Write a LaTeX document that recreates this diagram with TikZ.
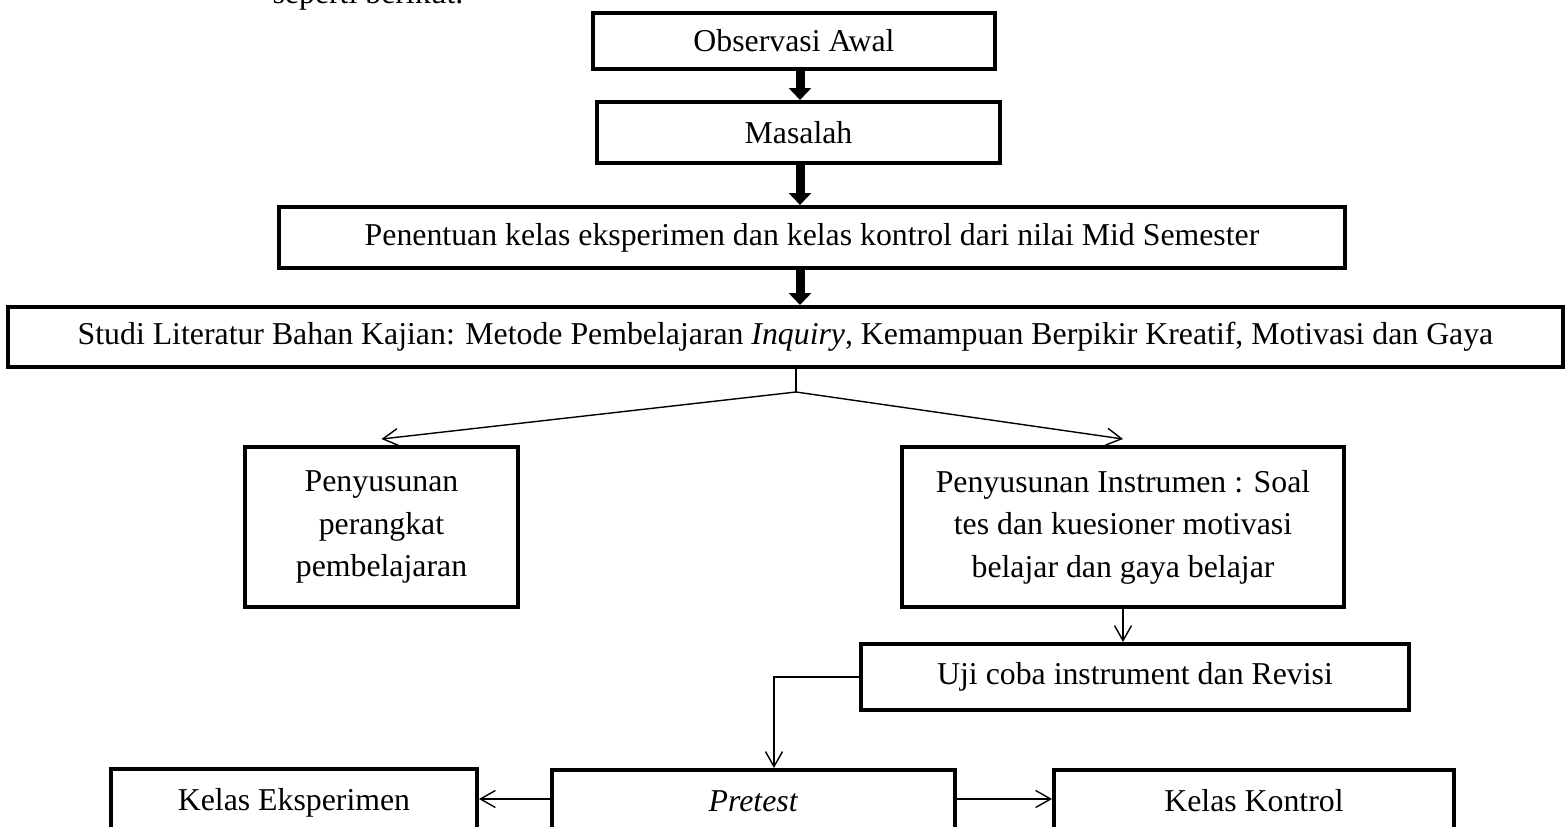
\documentclass[tikz,border=0pt]{standalone}
\usepackage{fontspec}
\setmainfont{Liberation Serif}
\usetikzlibrary{arrows.meta}

\begin{document}
\begin{tikzpicture}[x=0.02cm, y=-0.02cm,
    every node/.style={font=\fontsize{18.1}{24.2}\selectfont, inner sep=0pt, align=center},
    box/.style={draw, line width=0.08cm},
    bot/.style={box, anchor=north, text height=0.84cm, text depth=1.6cm},
    fat/.style={line width=0.18cm, -{Triangle[width=0.44cm,length=0.24cm]}},
    link/.style={line width=0.028cm, -{Straight Barb[length=0.3cm,width=0.34cm]}}]

    \useasboundingbox (0,0) rectangle (1566,827);

    \node[anchor=base] (intro) at (368,4) {seperti berikut.};

    \node[box, minimum width=8.04cm, minimum height=1.12cm] (obs) at (794,41) {Observasi Awal};
    \node[box, minimum width=8.06cm, minimum height=1.22cm] (mas) at (798.5,132.5) {Masalah};
    \node[box, minimum width=21.32cm, minimum height=1.22cm] (pen) at (812,237.5)
      {Penentuan kelas eksperimen dan kelas kontrol dari nilai Mid Semester};
    \node[box, minimum width=31.1cm, minimum height=1.2cm] (stu) at (785.5,337)
      {Studi Literatur Bahan Kajian: Metode Pembelajaran \textit{Inquiry}, Kemampuan Berpikir Kreatif, Motivasi dan Gaya};

    \node[box, minimum width=5.46cm, minimum height=3.2cm] (per) at (381.5,527) {Penyusunan\\perangkat\\pembelajaran};
    \node[box, minimum width=8.86cm, minimum height=3.2cm] (ins) at (1123,527)
      {Penyusunan Instrumen : Soal\\tes dan kuesioner motivasi\\belajar dan gaya belajar};
    \node[box, minimum width=10.96cm, minimum height=1.32cm] (uji) at (1135,677) {Uji coba instrument dan Revisi};

    \node[bot, minimum width=7.32cm] (eks) at (294,767) {Kelas Eksperimen};
    \node[bot, minimum width=8.06cm] (pre) at (753.5,768) {\textit{Pretest}};
    \node[bot, minimum width=8cm] (kon) at (1254,768) {Kelas Kontrol};

    % thick arrows down the middle
    \coordinate (axis) at (800,0);
    \draw[fat] (obs.south -| axis) -- (mas.north -| axis);
    \draw[fat] (mas.south -| axis) -- (pen.north -| axis);
    \draw[fat] (pen.south -| axis) -- (stu.north -| axis);

    % split
    \coordinate (fork) at (796,392);
    \draw[line width=0.028cm] (stu.south -| fork) -- (fork);
    \draw[link] (fork) -- ([yshift=0.12cm]per.north);
    \draw[link] (fork) -- ([yshift=0.12cm]ins.north);
    \draw[link] (ins.south) -- (uji.north -| ins.south);

    \coordinate (drop) at (774,677);
    \draw[link] (uji.west) -- (drop) -- (pre.north -| drop);

    \coordinate (row) at (0,799);
    \draw[link] (pre.west |- row) -- (eks.east |- row);
    \draw[link] (pre.east |- row) -- (kon.west |- row);

\end{tikzpicture}
\end{document}
